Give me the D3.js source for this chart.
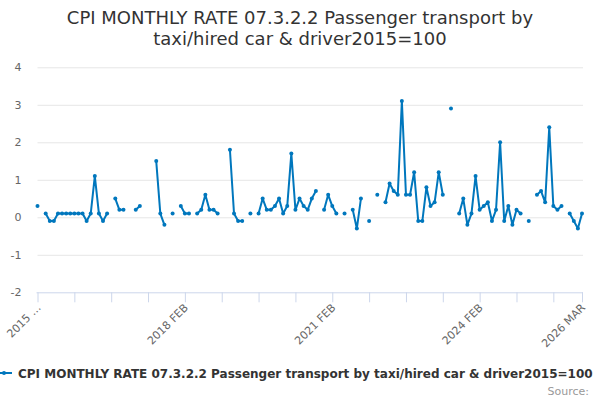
<!DOCTYPE html>
<html>
<head>
<meta charset="utf-8">
<script src="https://cdn.jsdelivr.net/npm/d3@7"></script>
<style>
  body { margin: 0; background: #fff; }
  svg { font-family: "DejaVu Sans", sans-serif; display: block; }
</style>
</head>
<body>
<div id="chart"></div>
<script>
// monthly categories, 2015 FEB .. 2026 MAR
const months = d3.timeMonth.range(new Date(2015, 1, 1), new Date(2026, 3, 1))
const monthFmt = d3.timeFormat("%Y %b")

// CPI monthly rate values (null = no value published)
const values = [
  0.3, null, 0.1, -0.1, -0.1, 0.1, 0.1, 0.1, 0.1, 0.1, 0.1,
  0.1, -0.1, 0.1, 1.1, 0.1, -0.1, 0.1, null, 0.5, 0.2, 0.2, null,
  null, 0.2, 0.3, null, null, null, 1.5, 0.1, -0.2, null, 0.1, null,
  0.3, 0.1, 0.1, null, 0.1, 0.2, 0.6, 0.2, 0.2, 0.1, null, null,
  1.8, 0.1, -0.1, -0.1, null, 0.1, null, 0.1, 0.5, 0.2, 0.2, 0.3,
  0.5, 0.1, 0.3, 1.7, 0.2, 0.5, 0.3, 0.2, 0.5, 0.7, null, 0.2,
  0.6, 0.3, 0.1, null, 0.1, null, 0.2, -0.3, 0.5, null, -0.1, null,
  0.6, null, 0.4, 0.9, 0.7, 0.6, 3.1, 0.6, 0.6, 1.2, -0.1, -0.1,
  0.8, 0.3, 0.4, 1.2, 0.6, null, 2.9, null, 0.1, 0.5, -0.2, 0.1,
  1.1, 0.2, 0.3, 0.4, -0.1, 0.2, 2.0, -0.1, 0.3, -0.2, 0.2, 0.1,
  null, -0.1, null, 0.6, 0.7, 0.4, 2.4, 0.3, 0.2, 0.3, null, 0.1,
  -0.1, -0.3, 0.1
]

const yTicks = [-2, -1, 0, 1, 2, 3, 4]
const xTickIdx = [0, 9, 18, 27, 36, 45, 54, 63, 72, 81, 90, 99, 108, 117, 126, 133]
const xLabelIdx = [0, 36, 72, 108, 133]
const xLabels = ["2015 …", "2018 FEB", "2021 FEB", "2024 FEB", "2026 MAR"]

const titleLines = ["CPI MONTHLY RATE 07.3.2.2 Passenger transport by", "taxi/hired car & driver2015=100"]
const seriesName = "CPI MONTHLY RATE 07.3.2.2 Passenger transport by taxi/hired car & driver2015=100"

const width = 600, height = 400
const plot = {left: 37.5, right: 582, top: 67.3, bottom: 292.3}
const color = "#0077bd"

const svg = d3.select("#chart").append("svg")
  .attr("width", width)
  .attr("height", height)

const data = months.map((m, i) => ({date: m, label: monthFmt(m).toUpperCase(), v: values[i]}))

const x = d3.scaleLinear().domain([0, months.length - 1]).range([plot.left, plot.right])
const y = d3.scaleLinear().domain([-2, 4]).range([plot.bottom, plot.top])

// title
svg.append("text")
  .attr("x", width / 2)
  .attr("y", 24)
  .attr("text-anchor", "middle")
  .attr("fill", "#333333")
  .attr("font-size", "18px")
  .selectAll("tspan")
  .data(titleLines)
  .enter().append("tspan")
  .attr("x", width / 2)
  .attr("dy", (d, i) => i ? 21 : 0)
  .text(d => d)

// y grid + labels
const yAxis = d3.axisLeft(y)
  .tickValues(yTicks)
  .tickSize(-(plot.right - plot.left + 1))
  .tickPadding(16)
  .tickFormat(d => String(d))
const yG = svg.append("g")
  .attr("transform", `translate(${plot.left}, 0)`)
  .call(yAxis)
yG.select(".domain").remove()
yG.selectAll(".tick line").attr("stroke", "#e6e6e6")
yG.selectAll(".tick text")
  .attr("fill", "#666666")
  .attr("font-size", "11px")
  .attr("font-family", "DejaVu Sans, sans-serif")
yG.selectAll(".tick").filter(d => d === -2).select("line").remove()

// x axis
const xAxis = d3.axisBottom(x).tickValues(xTickIdx).tickSize(10).tickFormat("")
const xG = svg.append("g")
  .attr("transform", `translate(0, ${plot.bottom})`)
  .call(xAxis)
xG.select(".domain")
  .attr("stroke", "#ccd6eb")
  .attr("d", `M${plot.left - 1},0.5H${plot.right + 1}`)
xG.selectAll(".tick line").attr("stroke", "#ccd6eb")

svg.append("g")
  .selectAll("text")
  .data(xLabelIdx)
  .enter().append("text")
  .attr("transform", d => `translate(${x(d) + 4}, ${plot.bottom + 16}) rotate(-45)`)
  .attr("text-anchor", "end")
  .attr("fill", "#666666")
  .attr("font-size", "11px")
  .text((d, i) => xLabels[i])

// series line (broken at gaps)
const line = d3.line()
  .defined(d => d.v !== null)
  .x((d, i) => x(i))
  .y(d => y(d.v))

svg.append("path")
  .datum(data)
  .attr("fill", "none")
  .attr("stroke", color)
  .attr("stroke-width", 2)
  .attr("stroke-linejoin", "round")
  .attr("d", line)

svg.append("g")
  .selectAll("circle")
  .data(data.map((d, i) => ({i: i, v: d.v})).filter(d => d.v !== null))
  .enter().append("circle")
  .attr("cx", d => x(d.i))
  .attr("cy", d => y(d.v))
  .attr("r", 2)
  .attr("fill", color)

// legend
const legend = svg.append("g").attr("transform", "translate(0, 373)")
legend.append("line")
  .attr("x1", -4).attr("x2", 12)
  .attr("y1", 0).attr("y2", 0)
  .attr("stroke", color)
  .attr("stroke-width", 2)
legend.append("circle")
  .attr("cx", 4).attr("cy", 0).attr("r", 2)
  .attr("fill", color)
legend.append("text")
  .attr("x", 18)
  .attr("y", 5)
  .attr("fill", "#333333")
  .attr("font-size", "12px")
  .attr("font-weight", "bold")
  .text(seriesName)

// credits
svg.append("text")
  .attr("x", 589)
  .attr("y", 395)
  .attr("text-anchor", "end")
  .attr("fill", "#999999")
  .attr("font-size", "11px")
  .text("Source:")
</script>
</body>
</html>
